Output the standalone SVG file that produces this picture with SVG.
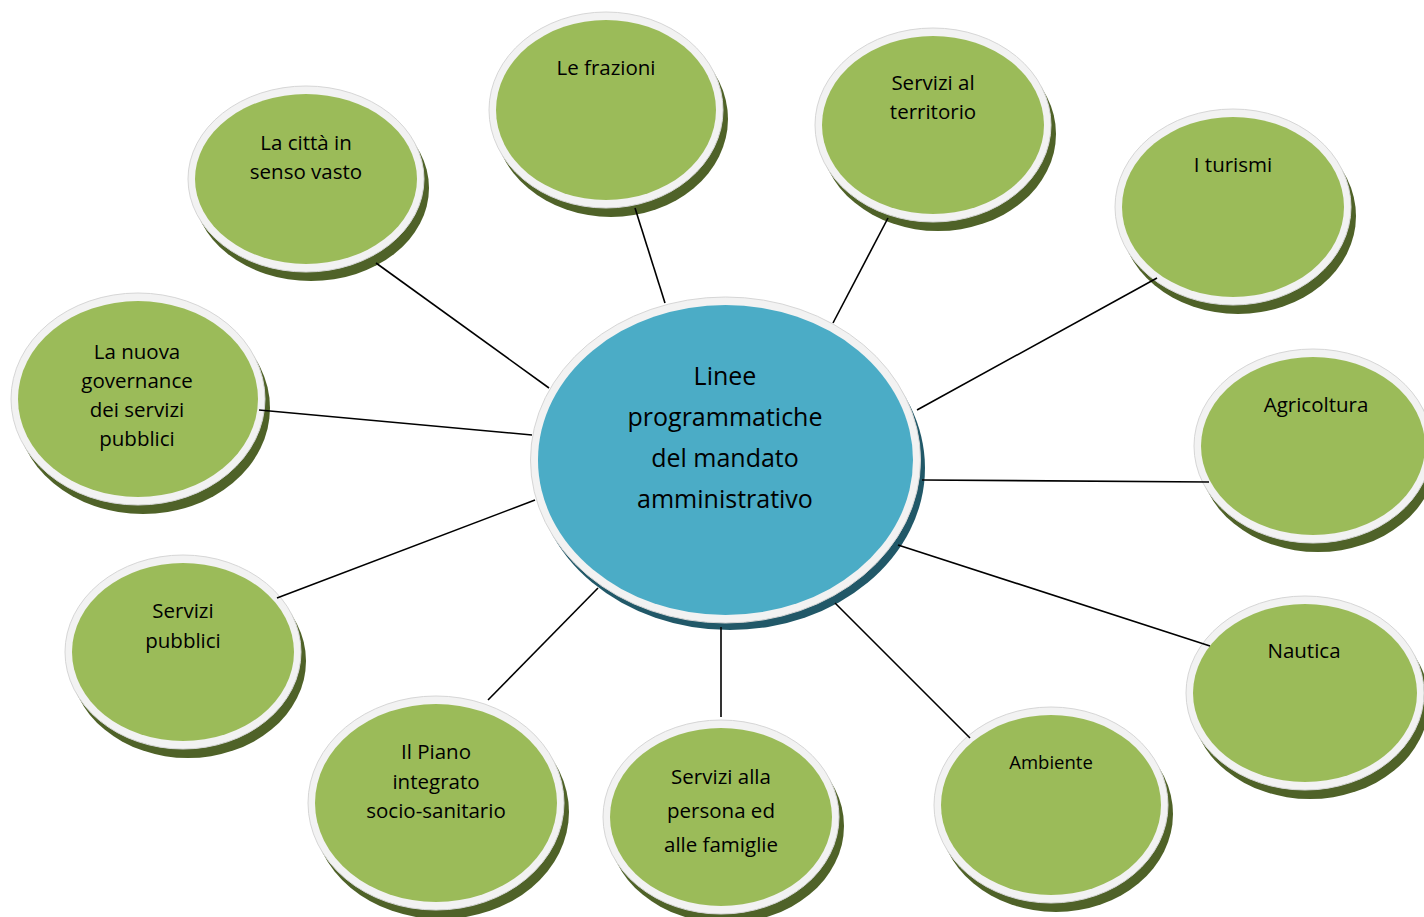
<svg xmlns="http://www.w3.org/2000/svg" width="1424" height="917" viewBox="0 0 1424 917">
<style>
.sh{fill:#4f6228}
.shb{fill:#215868}
.ring{fill:#f2f2f2;stroke:#d6d6d6;stroke-width:1}
.g{fill:#9bbb59}
.b{fill:#4bacc6}
text{font-family:"Open Sans","Noto Sans",sans-serif;font-size:20.5px;fill:#000;text-anchor:middle}
.big{font-size:25px}
.sm{font-size:18.5px}
.conn line{stroke:#000;stroke-width:1.6}
</style>
<rect width="1424" height="917" fill="#fff"/>
<g id="center">
<ellipse class="shb" cx="730" cy="468" rx="195" ry="162"/>
<ellipse class="ring" cx="725.5" cy="460" rx="195" ry="163"/>
<ellipse class="b" cx="725.5" cy="460" rx="187.5" ry="155"/>
<text class="big" x="725" y="385">Linee</text>
<text class="big" x="725" y="426">programmatiche</text>
<text class="big" x="725" y="467">del mandato</text>
<text class="big" x="725" y="508">amministrativo</text>
</g>
<g id="n-citta">
<ellipse class="sh" cx="311" cy="188" rx="118" ry="93"/>
<ellipse class="ring" cx="306" cy="179" rx="118" ry="93"/>
<ellipse class="g" cx="306" cy="179" rx="111" ry="85"/>
<text x="306" y="150">La città in</text>
<text x="306" y="179">senso vasto</text>
</g>
<g id="n-frazioni">
<ellipse class="sh" cx="611" cy="119" rx="117" ry="98"/>
<ellipse class="ring" cx="606" cy="110" rx="117" ry="98"/>
<ellipse class="g" cx="606" cy="110" rx="110" ry="90"/>
<text x="606" y="75">Le frazioni</text>
</g>
<g id="n-territorio">
<ellipse class="sh" cx="938" cy="134" rx="118" ry="97"/>
<ellipse class="ring" cx="933" cy="125" rx="118" ry="97"/>
<ellipse class="g" cx="933" cy="125" rx="111" ry="89"/>
<text x="933" y="90">Servizi al</text>
<text x="933" y="119">territorio</text>
</g>
<g id="n-turismi">
<ellipse class="sh" cx="1238" cy="216" rx="118" ry="98"/>
<ellipse class="ring" cx="1233" cy="207" rx="118" ry="98"/>
<ellipse class="g" cx="1233" cy="207" rx="111" ry="90"/>
<text x="1233" y="172">I turismi</text>
</g>
<g id="n-agricoltura">
<ellipse class="sh" cx="1318" cy="455" rx="119" ry="97"/>
<ellipse class="ring" cx="1313" cy="446" rx="119" ry="97"/>
<ellipse class="g" cx="1313" cy="446" rx="112" ry="89"/>
<text x="1316" y="412">Agricoltura</text>
</g>
<g id="n-nautica">
<ellipse class="sh" cx="1310" cy="702" rx="119" ry="97"/>
<ellipse class="ring" cx="1305" cy="693" rx="119" ry="97"/>
<ellipse class="g" cx="1305" cy="693" rx="112" ry="89"/>
<text x="1304" y="658">Nautica</text>
</g>
<g id="n-ambiente">
<ellipse class="sh" cx="1056" cy="814" rx="117" ry="98"/>
<ellipse class="ring" cx="1051" cy="805" rx="117" ry="98"/>
<ellipse class="g" cx="1051" cy="805" rx="110" ry="90"/>
<text class="sm" x="1051" y="769">Ambiente</text>
</g>
<g id="n-persona">
<ellipse class="sh" cx="726" cy="826" rx="118" ry="97"/>
<ellipse class="ring" cx="721" cy="817" rx="118" ry="97"/>
<ellipse class="g" cx="721" cy="817" rx="111" ry="89"/>
<text x="721" y="784">Servizi alla</text>
<text x="721" y="818">persona ed</text>
<text x="721" y="852">alle famiglie</text>
</g>
<g id="n-piano">
<ellipse class="sh" cx="441" cy="812" rx="128" ry="107"/>
<ellipse class="ring" cx="436" cy="803" rx="128" ry="107"/>
<ellipse class="g" cx="436" cy="803" rx="121" ry="99"/>
<text x="436" y="759">Il Piano</text>
<text x="436" y="789">integrato</text>
<text x="436" y="818">socio-sanitario</text>
</g>
<g id="n-pubblici">
<ellipse class="sh" cx="188" cy="661" rx="118" ry="97"/>
<ellipse class="ring" cx="183" cy="652" rx="118" ry="97"/>
<ellipse class="g" cx="183" cy="652" rx="111" ry="89"/>
<text x="183" y="618">Servizi</text>
<text x="183" y="648">pubblici</text>
</g>
<g id="n-governance">
<ellipse class="sh" cx="143" cy="408" rx="127" ry="106"/>
<ellipse class="ring" cx="138" cy="399" rx="127" ry="106"/>
<ellipse class="g" cx="138" cy="399" rx="120" ry="98"/>
<text x="137" y="359">La nuova</text>
<text x="137" y="388">governance</text>
<text x="137" y="417">dei servizi</text>
<text x="137" y="446">pubblici</text>
</g>
<g id="connectors" class="conn">
<line x1="376" y1="263" x2="549" y2="388"/>
<line x1="635" y1="208" x2="665" y2="303"/>
<line x1="888" y1="218" x2="833" y2="323"/>
<line x1="1157" y1="278" x2="917" y2="410"/>
<line x1="922" y1="480" x2="1209" y2="482"/>
<line x1="898" y1="545" x2="1210" y2="646"/>
<line x1="835" y1="603" x2="970" y2="738"/>
<line x1="721" y1="627" x2="721" y2="717"/>
<line x1="598" y1="588" x2="488" y2="700"/>
<line x1="535" y1="500" x2="277" y2="598"/>
<line x1="532" y1="435" x2="259" y2="410"/>
</g>
</svg>
